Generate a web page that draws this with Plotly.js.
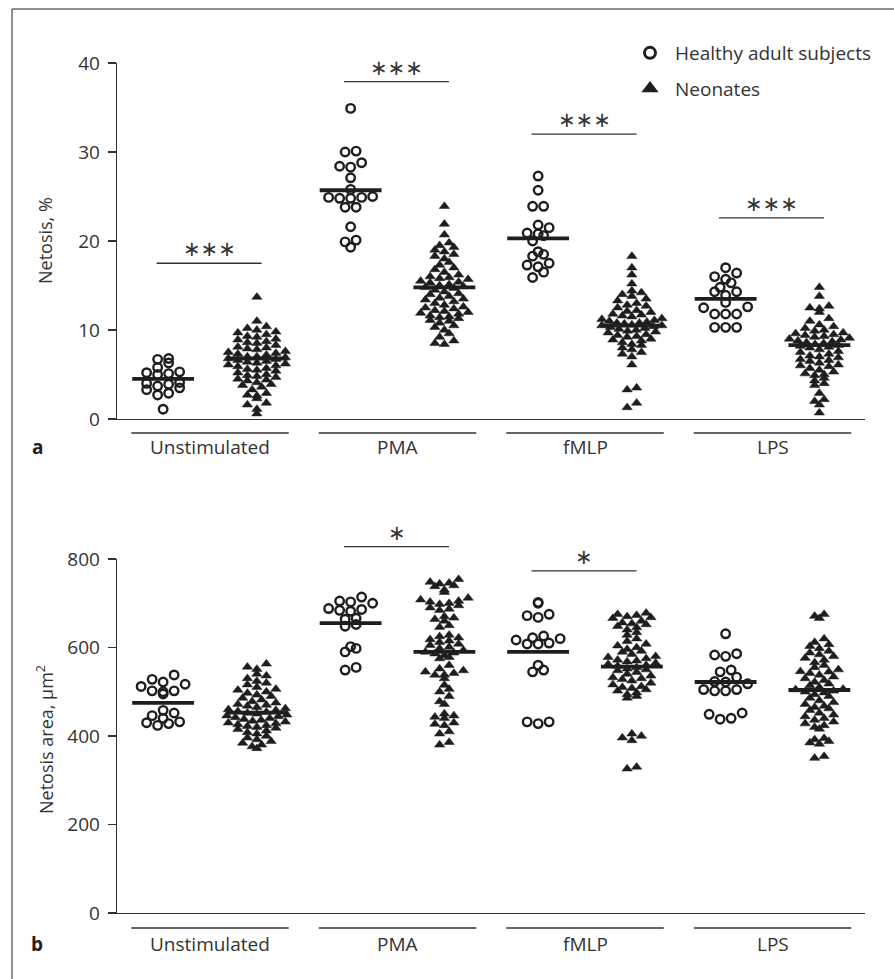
<!DOCTYPE html>
<html><head><meta charset="utf-8">
<script src="https://cdn.plot.ly/plotly-3.0.1.min.js"></script>
<style>html,body{margin:0;padding:0;background:#fff}#chart{width:894px;height:979px}</style>
</head><body><div id="chart"></div>
<script>
// ---------------- DATA ----------------
const categories = ['Unstimulated', 'PMA', 'fMLP', 'LPS'];
const seriesNames = ['Healthy adult subjects', 'Neonates'];

// Panel a: Netosis, %
const netAdultUnstim = [6.8, 6.7, 6.3, 5.8, 5.3, 5.2, 5.1, 5.0, 4.1, 4.0, 3.9, 3.7, 3.5, 3.3, 2.9, 2.7, 1.1];
const netNeoUnstim = [13.7, 11.0, 10.4, 10.2, 10.0, 9.8, 9.7, 9.5, 9.3, 9.2, 9.0, 8.9, 8.7, 8.6, 8.5, 8.3, 8.1, 8.0, 7.9, 7.8, 7.6, 7.5, 7.4, 7.3, 7.2, 7.0, 7.0, 6.9, 6.8, 6.7, 6.6, 6.5, 6.4, 6.3, 6.2, 6.1, 6.0, 5.9, 5.7, 5.6, 5.5, 5.4, 5.2, 5.0, 4.9, 4.8, 4.7, 4.5, 4.4, 4.3, 4.1, 3.9, 3.8, 3.6, 3.3, 2.9, 2.7, 2.6, 2.3, 1.8, 1.6, 1.1, 0.6];
const netAdultPMA = [34.9, 30.1, 30.0, 28.8, 28.4, 28.3, 27.1, 25.8, 25.0, 24.9, 24.9, 24.8, 24.8, 23.8, 23.8, 21.6, 20.1, 19.9, 19.3];
const netNeoPMA = [23.9, 21.9, 20.7, 19.8, 19.5, 19.3, 19.0, 18.8, 18.5, 18.3, 18.0, 17.6, 17.3, 17.0, 16.8, 16.5, 16.2, 16.0, 15.9, 15.8, 15.7, 15.5, 15.4, 15.3, 15.1, 15.0, 14.9, 14.8, 14.7, 14.5, 14.3, 14.1, 14.0, 13.8, 13.6, 13.5, 13.4, 13.2, 13.0, 12.8, 12.6, 12.5, 12.4, 12.2, 12.1, 12.0, 11.9, 11.8, 11.6, 11.5, 11.4, 11.3, 11.1, 11.0, 10.8, 10.5, 10.3, 10.0, 9.6, 9.2, 8.8, 8.5, 8.4];
const netAdultFMLP = [27.3, 25.7, 23.9, 23.9, 21.8, 21.5, 20.9, 20.8, 20.6, 20.0, 18.8, 18.5, 18.3, 17.5, 17.3, 17.1, 16.5, 15.9];
const netNeoFMLP = [18.3, 17.0, 16.2, 15.2, 14.4, 14.2, 14.0, 13.8, 13.5, 13.3, 13.0, 12.8, 12.7, 12.5, 12.2, 12.1, 12.0, 11.8, 11.7, 11.6, 11.5, 11.3, 11.2, 11.1, 11.0, 10.9, 10.8, 10.8, 10.7, 10.6, 10.5, 10.5, 10.4, 10.3, 10.2, 10.1, 10.0, 9.9, 9.8, 9.7, 9.5, 9.4, 9.3, 9.2, 9.0, 8.9, 8.8, 8.6, 8.4, 8.3, 8.0, 7.8, 7.5, 7.3, 7.0, 6.1, 3.5, 3.3, 1.8, 1.3];
const netAdultLPS = [17.0, 16.4, 16.0, 15.7, 15.3, 14.8, 14.3, 14.3, 13.9, 13.1, 12.6, 12.5, 11.8, 11.8, 11.8, 10.3, 10.3, 10.3];
const netNeoLPS = [14.8, 13.8, 12.7, 12.5, 12.4, 12.0, 11.3, 11.0, 10.6, 10.4, 10.2, 10.0, 9.9, 9.7, 9.6, 9.5, 9.4, 9.3, 9.2, 9.1, 9.0, 8.9, 8.8, 8.7, 8.6, 8.5, 8.4, 8.3, 8.2, 8.1, 8.0, 7.8, 7.6, 7.5, 7.3, 7.1, 7.0, 6.9, 6.7, 6.6, 6.5, 6.3, 6.1, 6.0, 5.9, 5.7, 5.5, 5.3, 5.1, 5.0, 4.9, 4.6, 4.3, 4.0, 3.8, 2.9, 2.2, 2.0, 1.6, 0.7];
const netAdultCentre = [4.5, 25.7, 20.3, 13.5];
const netNeoCentre = [6.8, 14.8, 10.5, 8.3];
const netSigText = ['***', '***', '***', '***'];
const netSigLevel = [17.5, 37.9, 32.0, 22.6];
const netTicks = [0, 10, 20, 30, 40];

// Panel b: Netosis area, µm²
const areaAdultUnstim = [538, 528, 522, 517, 512, 502, 502, 500, 495, 458, 452, 446, 440, 432, 430, 428, 424];
const areaNeoUnstim = [563, 556, 551, 540, 536, 530, 524, 520, 516, 510, 506, 504, 500, 497, 493, 490, 486, 482, 478, 475, 472, 470, 468, 465, 462, 460, 458, 456, 454, 452, 450, 448, 446, 444, 442, 440, 438, 436, 434, 432, 430, 428, 426, 424, 422, 420, 418, 415, 412, 408, 405, 400, 396, 392, 388, 384, 380, 376, 372];
const areaAdultPMA = [714, 705, 703, 700, 688, 686, 684, 682, 666, 664, 652, 648, 602, 598, 590, 555, 549];
const areaNeoPMA = [754, 748, 746, 744, 740, 738, 730, 725, 712, 708, 705, 703, 700, 698, 695, 690, 687, 684, 670, 667, 664, 660, 650, 646, 628, 625, 622, 618, 615, 612, 608, 605, 601, 598, 594, 590, 588, 586, 582, 578, 575, 560, 552, 548, 545, 542, 538, 538, 530, 515, 506, 500, 490, 478, 472, 450, 446, 443, 440, 430, 427, 424, 410, 405, 386, 380];
const areaAdultFMLP = [702, 700, 675, 672, 668, 626, 622, 620, 617, 610, 608, 608, 560, 549, 545, 432, 432, 428];
const areaNeoFMLP = [678, 675, 673, 670, 668, 666, 660, 656, 654, 652, 648, 645, 640, 634, 628, 620, 614, 608, 604, 600, 596, 592, 590, 585, 580, 578, 575, 572, 570, 568, 565, 562, 560, 558, 555, 552, 550, 548, 544, 540, 536, 532, 530, 528, 525, 520, 516, 512, 510, 508, 505, 502, 498, 494, 490, 486, 405, 400, 396, 390, 330, 326];
const areaAdultLPS = [631, 586, 583, 580, 549, 545, 533, 523, 522, 518, 505, 505, 502, 502, 452, 449, 440, 438];
const areaNeoLPS = [675, 671, 666, 620, 612, 607, 603, 598, 592, 588, 584, 580, 576, 572, 566, 560, 555, 550, 546, 545, 542, 538, 534, 530, 526, 522, 518, 514, 510, 506, 505, 502, 500, 498, 494, 490, 486, 480, 476, 472, 468, 465, 462, 458, 452, 448, 444, 440, 436, 432, 428, 424, 420, 416, 395, 392, 388, 385, 382, 354, 350];
const areaAdultCentre = [475, 655, 590, 522];
const areaNeoCentre = [453, 590, 557, 504];
const areaSigText = ['', '*', '*', ''];
const areaSigLevel = [null, 828, 773, null];
const areaTicks = [0, 200, 400, 600, 800];

// ---------------- LAYOUT GEOMETRY ----------------
const W = 894, H = 979;
const plotL = 117, plotR = 865;
const aTop = 63, aBot = 419, bTop = 559, bBot = 913;
const xPx = 187.5;                 // px per category unit
const xMin = -0.496;
const xMax = xMin + (plotR - plotL) / xPx;
const aMax = 40, bMax = 800;
const aPxU = (aBot - aTop) / aMax, bPxU = (bBot - bTop) / bMax;
const INK = '#1e1e1e', AX = '#333333';
const FONT = 'Open Sans, Noto Sans, sans-serif';

// row-based scatter-dot (Prism-like) horizontal spreading, returns offsets in category units
function spread(vals, pxPerUnit, rowH, spacing, maxHalf) {
  const rows = {};
  vals.forEach((v, i) => { const r = Math.round(v * pxPerUnit / rowH); (rows[r] = rows[r] || []).push({ v, i }); });
  const off = new Array(vals.length).fill(0);
  Object.values(rows).forEach(row => {
    const n = row.length;
    const s = n > 1 ? Math.min(spacing, 2 * maxHalf / (n - 1)) : 0;
    const slots = [];
    for (let k = 0; k < n; k++) slots.push((k - (n - 1) / 2) * s);
    slots.sort((a, b) => Math.abs(a) - Math.abs(b) || a - b);
    row.sort((a, b) => a.v - b.v);
    row.forEach((it, k) => { off[it.i] = slots[k] / xPx; });
  });
  return off;
}

const traces = [];
function addGroup(vals, catIdx, isAdult, xa, ya, pxU) {
  const off = isAdult ? spread(vals, pxU, 9, 11, 28) : spread(vals, pxU, 6.5, 9.5, 30);
  const base = catIdx + (isAdult ? -0.25 : 0.25);
  traces.push({
    type: 'scatter', mode: 'markers', xaxis: xa, yaxis: ya, showlegend: false, cliponaxis: false,
    x: off.map(o => base + o), y: vals, hoverinfo: 'y',
    marker: isAdult
      ? { symbol: 'circle-open', size: 8.5, color: INK, line: { width: 2.4, color: INK } }
      : { symbol: 'triangle-up', size: 9, color: INK, line: { width: 0.5, color: INK } }
  });
}
const aAdults = [netAdultUnstim, netAdultPMA, netAdultFMLP, netAdultLPS];
const aNeos = [netNeoUnstim, netNeoPMA, netNeoFMLP, netNeoLPS];
const bAdults = [areaAdultUnstim, areaAdultPMA, areaAdultFMLP, areaAdultLPS];
const bNeos = [areaNeoUnstim, areaNeoPMA, areaNeoFMLP, areaNeoLPS];
categories.forEach((c, i) => {
  addGroup(aAdults[i], i, true, 'x', 'y', aPxU);
  addGroup(aNeos[i], i, false, 'x', 'y', aPxU);
  addGroup(bAdults[i], i, true, 'x2', 'y2', bPxU);
  addGroup(bNeos[i], i, false, 'x2', 'y2', bPxU);
});

// centre lines
function centreTrace(adultC, neoC, xa, ya) {
  const xs = [], ys = [];
  categories.forEach((c, i) => {
    [[i - 0.25, adultC[i]], [i + 0.25, neoC[i]]].forEach(([cx, cy]) => {
      xs.push(cx - 0.165, cx + 0.165, null); ys.push(cy, cy, null);
    });
  });
  return { type: 'scatter', mode: 'lines', xaxis: xa, yaxis: ya, x: xs, y: ys, showlegend: false,
    cliponaxis: false, hoverinfo: 'skip', line: { color: INK, width: 3.8 } };
}
traces.push(centreTrace(netAdultCentre, netNeoCentre, 'x', 'y'));
traces.push(centreTrace(areaAdultCentre, areaNeoCentre, 'x2', 'y2'));

// legend entries
traces.push({ type: 'scatter', mode: 'markers', x: [null], y: [null], name: seriesNames[0], legendgroup: 'g1',
  marker: { symbol: 'circle-open', size: 11, color: INK, line: { width: 3, color: INK } } });
traces.push({ type: 'scatter', mode: 'markers', x: [null], y: [null], name: seriesNames[1], legendgroup: 'g2',
  marker: { symbol: 'triangle-up', size: 15, color: INK } });

// shapes & annotations
const shapes = [];
const annotations = [];
// frame (top & left)
shapes.push({ type: 'line', xref: 'paper', yref: 'paper', x0: 12 / W, x1: 1, y0: 1 - 9 / H, y1: 1 - 9 / H, line: { color: '#6a6a6a', width: 1.5 } });
shapes.push({ type: 'line', xref: 'paper', yref: 'paper', x0: 12 / W, x1: 12 / W, y0: 0, y1: 1 - 9 / H, line: { color: '#6a6a6a', width: 1.5 } });

// value -> paper y through the panel's linear scale (so levels above the axis top still show)
function toPaper(v, top, bot, vmax) { return 1 - (bot - (v / vmax) * (bot - top)) / H; }

function catDecor(xa, top, bot, vmax, underY, labelY, sigText, sigLevel) {
  categories.forEach((c, i) => {
    shapes.push({ type: 'line', xref: xa, yref: 'paper', x0: i - 0.42, x1: i + 0.42, y0: 1 - underY / H, y1: 1 - underY / H, line: { color: AX, width: 1.3 } });
    annotations.push({ xref: xa, yref: 'paper', x: i, y: 1 - labelY / H, text: c, showarrow: false, xanchor: 'center', yanchor: 'middle', font: { size: 19, color: AX, family: FONT } });
    if (sigText[i]) {
      const py = toPaper(sigLevel[i], top, bot, vmax);
      shapes.push({ type: 'line', xref: xa, yref: 'paper', x0: i - 0.285, x1: i + 0.275, y0: py, y1: py, line: { color: AX, width: 1.3 } });
      annotations.push({ xref: xa, yref: 'paper', x: i - 0.005, y: py, yshift: 14, text: sigText[i].replace(/\*/g, '∗'), showarrow: false, xanchor: 'center', yanchor: 'middle', font: { size: 21, color: AX, family: 'DejaVu Sans' } });
    }
  });
}
catDecor('x', aTop, aBot, aMax, 433, 447, netSigText, netSigLevel);
catDecor('x2', bTop, bBot, bMax, 928, 944, areaSigText, areaSigLevel);

annotations.push({ xref: 'paper', yref: 'paper', x: 37 / W, y: 1 - 447 / H, text: '<b>a</b>', showarrow: false, xanchor: 'center', yanchor: 'middle', font: { size: 19, color: '#222', family: FONT } });
annotations.push({ xref: 'paper', yref: 'paper', x: 37 / W, y: 1 - 944 / H, text: '<b>b</b>', showarrow: false, xanchor: 'center', yanchor: 'middle', font: { size: 19, color: '#222', family: FONT } });
annotations.push({ xref: 'paper', yref: 'paper', x: 45 / W, y: 1 - 241 / H, text: 'Netosis, %', textangle: -90, showarrow: false, xanchor: 'center', yanchor: 'middle', font: { size: 18, color: AX, family: FONT } });
annotations.push({ xref: 'paper', yref: 'paper', x: 45 / W, y: 1 - 740 / H, text: 'Netosis area, µm<sup>2</sup>', textangle: -90, showarrow: false, xanchor: 'center', yanchor: 'middle', font: { size: 18, color: AX, family: FONT } });

const xCommon = { domain: [plotL / W, plotR / W], range: [xMin, xMax], showline: true, linecolor: AX, linewidth: 1.3,
  showticklabels: false, ticks: '', showgrid: false, zeroline: false, fixedrange: true };
const yCommon = { ticks: 'outside', ticklen: 8, tickwidth: 1.3, tickcolor: AX, showline: true, linecolor: AX, linewidth: 1.3,
  showgrid: false, zeroline: false, fixedrange: true, ticklabelstandoff: 4, tickfont: { size: 19, color: AX, family: FONT } };

const layout = {
  width: W, height: H, margin: { l: 0, r: 0, t: 0, b: 0 },
  paper_bgcolor: '#fff', plot_bgcolor: 'rgba(0,0,0,0)',
  font: { family: FONT, color: AX },
  showlegend: true,
  legend: { x: 625 / W, y: 1 - 34 / H, xanchor: 'left', yanchor: 'top', font: { size: 19, color: AX, family: FONT },
    bgcolor: 'rgba(0,0,0,0)', traceorder: 'grouped', tracegroupgap: 8, itemwidth: 40 },
  xaxis: Object.assign({}, xCommon, { anchor: 'y' }),
  yaxis: Object.assign({}, yCommon, { anchor: 'x', domain: [1 - aBot / H, 1 - aTop / H], range: [0, aMax], tickvals: netTicks }),
  xaxis2: Object.assign({}, xCommon, { anchor: 'y2' }),
  yaxis2: Object.assign({}, yCommon, { anchor: 'x2', domain: [1 - bBot / H, 1 - bTop / H], range: [0, bMax], tickvals: areaTicks }),
  shapes, annotations
};
Plotly.newPlot('chart', traces, layout, { displayModeBar: false, staticPlot: true });
</script>
</body></html>
